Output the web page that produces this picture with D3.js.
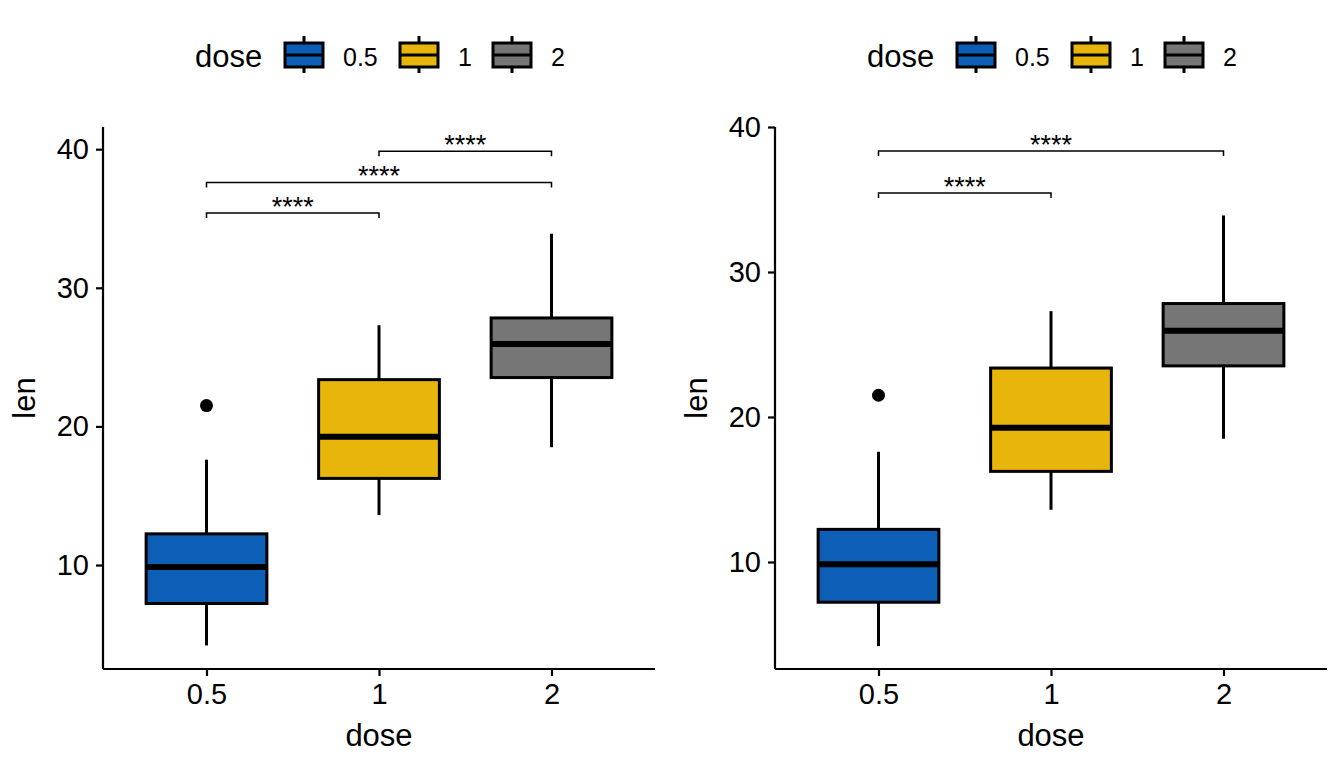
<!DOCTYPE html>
<html>
<head>
<meta charset="utf-8">
<script src="https://cdn.jsdelivr.net/npm/d3@7"></script>
<style>
html,body{margin:0;padding:0;background:#fff;}
svg{display:block;}
text{font-family:"Liberation Sans", Arial, Helvetica, sans-serif;}
</style>
</head>
<body>
<svg id="chart" width="1344" height="768"></svg>
<script>
// ---- data (ToothGrowth len by dose) ----
const doses = ["0.5", "1", "2"];
const colors = ["#0C5EB6", "#E8B50B", "#767676"];
const whiskerLow = [4.2, 13.6, 18.5];
const q1 = [7.225, 16.25, 23.525];
const medians = [9.85, 19.25, 25.95];
const q3 = [12.25, 23.375, 27.825];
const whiskerHigh = [17.6, 27.3, 33.9];
const outliers = [[21.5], [], []];
const yTicks = [10, 20, 30, 40];

// comparisons: [group1, group2, bracket y value, label]
const leftComparisons = [["0.5", "1", 35.4, "****"], ["0.5", "2", 37.6, "****"], ["1", "2", 39.85, "****"]];
const rightComparisons = [["0.5", "1", 35.45, "****"], ["0.5", "2", 38.35, "****"]];
const leftYDomain = [2.5, 41.6];
const rightYDomain = [2.62, 40.0];

const svg = d3.select("#chart");

function panel(x0, yDomain, comps) {
  const left = x0, right = x0 + 552, top = 127, bottom = 669;
  const g = svg.append("g");
  const x = d3.scalePoint().domain(doses).range([left, right]).padding(0.6);
  const y = d3.scaleLinear().domain(yDomain).range([bottom, top]);
  const step = x.step();
  const bw = step * 0.7;

  // boxes
  doses.forEach((d, i) => {
    const cx = x(d);
    g.append("line").attr("x1", cx).attr("x2", cx).attr("y1", y(q3[i])).attr("y2", y(whiskerHigh[i]))
      .attr("stroke", "#000").attr("stroke-width", 3);
    g.append("line").attr("x1", cx).attr("x2", cx).attr("y1", y(q1[i])).attr("y2", y(whiskerLow[i]))
      .attr("stroke", "#000").attr("stroke-width", 3);
    g.append("rect").attr("x", cx - bw / 2).attr("width", bw)
      .attr("y", y(q3[i])).attr("height", y(q1[i]) - y(q3[i]))
      .attr("fill", colors[i]).attr("stroke", "#000").attr("stroke-width", 3);
    g.append("line").attr("x1", cx - bw / 2).attr("x2", cx + bw / 2)
      .attr("y1", y(medians[i])).attr("y2", y(medians[i]))
      .attr("stroke", "#000").attr("stroke-width", 6);
    outliers[i].forEach(o => {
      g.append("circle").attr("cx", cx).attr("cy", y(o)).attr("r", 6.5).attr("fill", "#000");
    });
  });

  // brackets
  comps.forEach(c => {
    const xa = x(c[0]), xb = x(c[1]), yy = y(c[2]);
    g.append("path").attr("d", `M${xa},${yy + 5}V${yy}H${xb}V${yy + 5}`)
      .attr("fill", "none").attr("stroke", "#000").attr("stroke-width", 1.5);
    g.append("text").attr("x", (xa + xb) / 2).attr("y", yy + 3)
      .attr("text-anchor", "middle").attr("font-size", 27).text(c[3]);
  });

  // axes
  const xAxis = d3.axisBottom(x).tickSize(7).tickPadding(7);
  const gx = g.append("g").attr("transform", `translate(0,${bottom})`).call(xAxis);
  gx.select(".domain").attr("d", `M${left},0H${right}`).attr("stroke-width", 2.2);
  gx.selectAll(".tick line").attr("stroke-width", 2.2);
  gx.selectAll(".tick text").attr("font-size", 29).attr("fill", "#000");

  const yAxis = d3.axisLeft(y).tickValues(yTicks).tickSize(7).tickPadding(7);
  const gy = g.append("g").attr("transform", `translate(${left},0)`).call(yAxis);
  gy.select(".domain").attr("d", `M0,${top}V${bottom}`).attr("stroke-width", 2.2);
  gy.selectAll(".tick line").attr("stroke-width", 2.2);
  gy.selectAll(".tick text").attr("font-size", 29).attr("fill", "#000");

  // axis titles
  g.append("text").attr("x", (left + right) / 2).attr("y", 746).attr("text-anchor", "middle")
    .attr("font-size", 31).text("dose");
  g.append("text").attr("transform", `translate(${x0 - 68},${(top + bottom) / 2}) rotate(-90)`)
    .attr("text-anchor", "middle").attr("font-size", 31).text("len");

  // legend
  const lg = g.append("g");
  lg.append("text").attr("x", x0 + 92).attr("y", 67).attr("font-size", 31).text("dose");
  const keyX = [x0 + 182, x0 + 297, x0 + 390];
  doses.forEach((d, i) => {
    const kx = keyX[i];
    lg.append("line").attr("x1", kx + 19).attr("x2", kx + 19).attr("y1", 36).attr("y2", 73)
      .attr("stroke", "#000").attr("stroke-width", 3);
    lg.append("rect").attr("x", kx).attr("y", 43).attr("width", 38).attr("height", 24)
      .attr("fill", colors[i]).attr("stroke", "#000").attr("stroke-width", 3);
    lg.append("line").attr("x1", kx).attr("x2", kx + 38).attr("y1", 55).attr("y2", 55)
      .attr("stroke", "#000").attr("stroke-width", 3);
    lg.append("text").attr("x", kx + 58).attr("y", 66).attr("font-size", 25).text(d);
  });
}

panel(103, leftYDomain, leftComparisons);
panel(775, rightYDomain, rightComparisons);
</script>
</body>
</html>
